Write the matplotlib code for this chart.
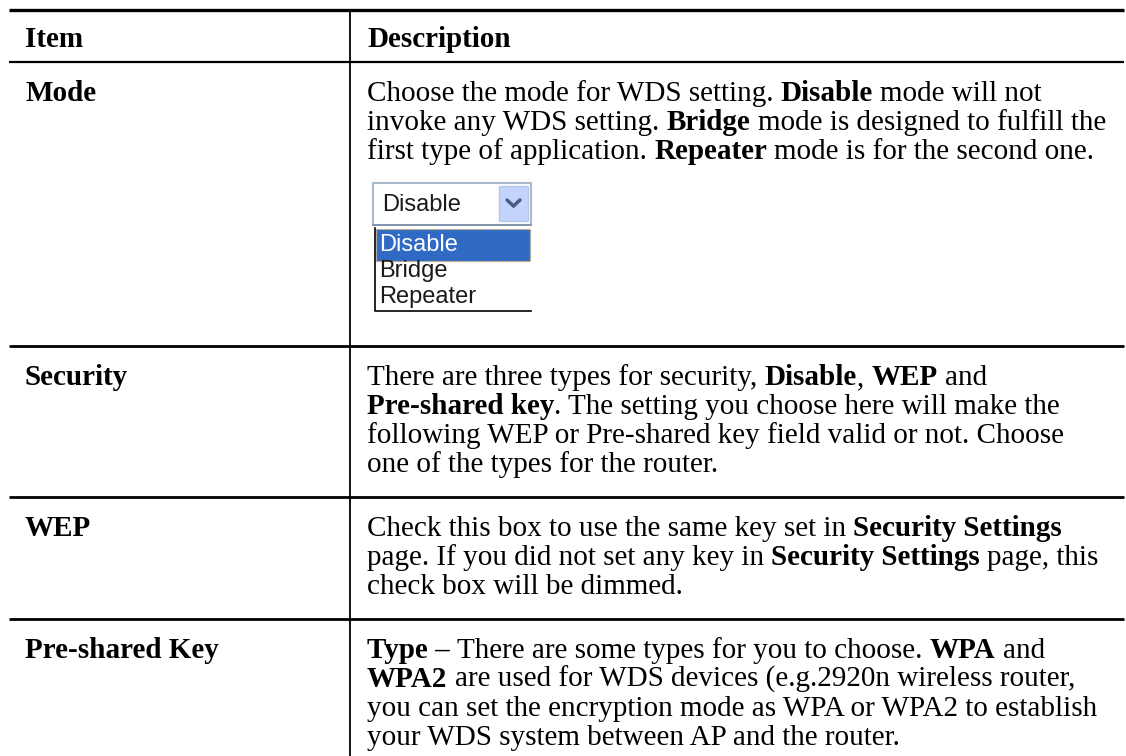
import matplotlib
matplotlib.use('Agg')
import matplotlib.pyplot as plt
from matplotlib.patches import Rectangle
from matplotlib.font_manager import FontProperties

# table content
header = ['Item', 'Description']
items = ['Mode', 'Security', 'WEP', 'Pre-shared Key']
descriptions = [
    ['Choose the mode for WDS setting. **Disable** mode will not',
     'invoke any WDS setting. **Bridge** mode is designed to fulfill the',
     'first type of application. **Repeater** mode is for the second one.'],
    ['There are three types for security, **Disable**, **WEP** and',
     '**Pre-shared key**. The setting you choose here will make the',
     'following WEP or Pre-shared key field valid or not. Choose',
     'one of the types for the router.'],
    ['Check this box to use the same key set in **Security Settings**',
     'page. If you did not set any key in **Security Settings** page, this',
     'check box will be dimmed.'],
    ['**Type \u2013** There are some types for you to choose. **WPA** and',
     '**WPA2** are used for WDS devices (e.g.2920n wireless router,',
     'you can set the encryption mode as WPA or WPA2 to establish',
     'your WDS system between AP and the router.'],
]
mode_options = ['Disable', 'Bridge', 'Repeater']
mode_selected = 'Disable'

# layout (pixels)
W, H = 1126, 756
LEFT, RIGHT, DIV = 9, 1124, 350
X_ITEM, X_DESC = 25, 367
TOP, HEAD_LINE = 10, 62
LINE_H = 29
FIRST = 39      # row line -> first baseline
BOTTOM = 25     # last baseline -> next row line
SERIF = 'Liberation Serif'
SANS = 'Liberation Sans'
FS = 21

fig = plt.figure(figsize=(W / 100, H / 100), dpi=100)
ax = fig.add_axes([0, 0, 1, 1])
ax.set_xlim(0, W)
ax.set_ylim(H, 0)
ax.axis('off')
renderer = fig.canvas.get_renderer()


def run_width(s, bold):
    fp = FontProperties(family=SERIF, size=FS, weight='bold' if bold else 'normal')
    w1 = renderer.get_text_width_height_descent('|' + s + '|', fp, ismath=False)[0]
    w0 = renderer.get_text_width_height_descent('||', fp, ismath=False)[0]
    return (w1 - w0) * 100 / fig.dpi


def draw_line(x, y, markup):
    for k, part in enumerate(markup.split('**')):
        if not part:
            continue
        bold = k % 2 == 1
        body = part.lstrip(' ')
        x += run_width(part[:len(part) - len(body)], bold)
        ax.text(x, y, body, fontfamily=SERIF, fontsize=FS,
                fontweight='bold' if bold else 'normal', va='baseline', ha='left')
        x += run_width(body, bold)


def hline(y, lw):
    ax.plot([LEFT, RIGHT], [y, y], color='black', lw=lw, solid_capstyle='butt')


def draw_dropdown(top):
    # closed select box
    ax.add_patch(Rectangle((373, top), 158, 42, facecolor='white', edgecolor='#a9b8cc', lw=1.5))
    ax.plot([373, 531], [top + 42, top + 42], color='#7d8fa8', lw=1.2)
    ax.add_patch(Rectangle((499, top + 3), 29, 35, facecolor='#c3d4fa', edgecolor='#b4c6ee', lw=1))
    ax.plot([507, 513.5, 520], [top + 17, top + 23, top + 17], color='#4a5d80', lw=2.5,
            solid_capstyle='round', solid_joinstyle='miter')
    ax.text(382, top + 22, mode_selected, fontfamily=SANS, fontsize=17,
            va='center', ha='left', color='#1a1a1a')
    # open list
    list_top = top + 45
    ax.plot([375, 375, 531], [list_top, list_top + 83, list_top + 83], color='black', lw=1.2)
    for i, opt in enumerate(mode_options):
        cy = list_top + 17 + i * 26
        color = '#1a1a1a'
        if opt == mode_selected:
            ax.add_patch(Rectangle((376, list_top + 1), 154, 32, facecolor='#316ac5',
                                   edgecolor='#d9a441', lw=1, linestyle=':'))
            color = 'white'
        ax.text(379, cy, opt, fontfamily=SANS, fontsize=17,
                va='center', ha='left', color=color)


# header
hline(TOP, 2.4)
ax.text(X_ITEM, 47, header[0], fontfamily=SERIF, fontsize=FS, fontweight='bold', va='baseline')
ax.text(X_DESC, 47, header[1], fontfamily=SERIF, fontsize=FS, fontweight='bold', va='baseline')
hline(HEAD_LINE, 1.6)

y_row = HEAD_LINE
for item, lines in zip(items, descriptions):
    base = y_row + FIRST
    ax.text(X_ITEM, base, item, fontfamily=SERIF, fontsize=FS, fontweight='bold', va='baseline')
    for j, ln in enumerate(lines):
        draw_line(X_DESC, base + j * LINE_H, ln)
    last = base + (len(lines) - 1) * LINE_H
    if item == 'Mode':
        draw_dropdown(last + 24)
        y_row = last + 24 + 129 + 34
    else:
        y_row = last + BOTTOM
    if y_row < H - 5:
        hline(y_row, 2.0)

ax.plot([DIV, DIV], [TOP, H], color='black', lw=1.3)

fig.savefig('out.png', dpi=100)
